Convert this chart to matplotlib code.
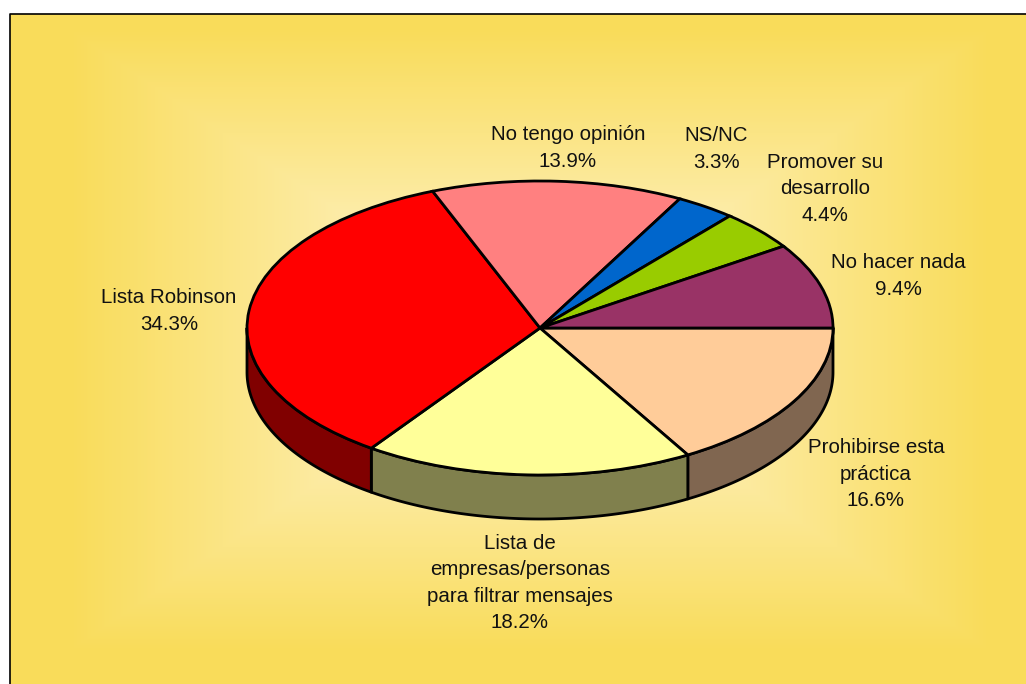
import numpy as np
import matplotlib
matplotlib.use('Agg')
import matplotlib.pyplot as plt

plt.rcParams['font.family'] = ['Liberation Sans', 'DejaVu Sans']

# datos, en sentido horario desde las 3
categorias = ['Prohibirse esta\npráctica', 'Lista de\nempresas/personas\npara filtrar mensajes',
              'Lista Robinson', 'No tengo opinión', 'NS/NC', 'Promover su\ndesarrollo', 'No hacer nada']
valores = [16.6, 18.2, 34.3, 13.9, 3.3, 4.4, 9.4]
colores = ['#FFCC99', '#FFFF99', '#FF0000', '#FF8080', '#0066CC', '#99CC00', '#993366']
colores_lado = ['#806650', '#80804D', '#800000']

# centro de cada etiqueta en pixeles
pos_etiquetas = [(876, 474), (520, 583), (169, 311), (568, 148), (716, 149), (825, 189), (898, 276)]

W, H = 1026, 684
cx, cy, rx, ry, fondo_prof = 540, 328, 293, 147, 44

fig = plt.figure(figsize=(W / 100, H / 100), dpi=100, facecolor='white')

# fondo con degradado rectangular
ax_bg = fig.add_axes([0, 0, 1, 1])
ax_bg.set_xlim(0, W)
ax_bg.set_ylim(H, 0)
ax_bg.axis('off')
x0, y0 = 10, 14
xx, yy = np.meshgrid(np.arange(x0, W) + 0.5, np.arange(y0, H) + 0.5)
t = np.maximum(np.abs(xx - 530) / 460, np.abs(yy - 340) / 310)
t = np.clip(t, 0, 1)[..., None]
borde = np.array([249, 220, 90]) / 255
centro = np.array([255, 247, 220]) / 255
img = centro + (borde - centro) * t
ax_bg.imshow(img, extent=(x0, W, H, y0), aspect='auto', interpolation='nearest')
ax_bg.set_xlim(0, W)
ax_bg.set_ylim(H, 0)
ax_bg.plot([9.5, 9.5, W], [H, 13.5, 13.5], color='black', lw=1.2, solid_capstyle='butt')

# tarta en una escala propia: radio 1 en cada eje, elipse por la forma del axes
ax = fig.add_axes([0, 0, 1, 1], facecolor='none')
lim_x = ((0 - cx) / rx, (W - cx) / rx)
lim_y = ((cy - H) / ry, (cy - 0) / ry)
prof = fondo_prof / ry

# lateral
fin = -np.cumsum(valores) / np.sum(valores) * 360
inicio = np.concatenate([[0], fin[:-1]])
for a, b, c in zip(inicio[:3], fin[:3], colores_lado):
    th = np.radians(np.linspace(a, max(b, -180), 120))
    xs = np.concatenate([np.cos(th), np.cos(th[::-1])])
    ys = np.concatenate([np.sin(th), np.sin(th[::-1]) - prof])
    ax.fill(xs, ys, facecolor=c, edgecolor='black', lw=2, joinstyle='round')

ax.pie(valores, colors=colores, startangle=0, counterclock=False, radius=1,
       wedgeprops={'edgecolor': 'black', 'linewidth': 2})
ax.set_aspect('auto')
ax.set_xlim(*lim_x)
ax.set_ylim(*lim_y)
ax.axis('off')

# etiquetas
for nombre, v, (px, py) in zip(categorias, valores, pos_etiquetas):
    ax_bg.text(px, py, f'{nombre}\n{v:.1f}%', ha='center', va='center', fontsize=14.8,
               color='#111111', linespacing=1.48)

fig.savefig('out.png', dpi=100)
